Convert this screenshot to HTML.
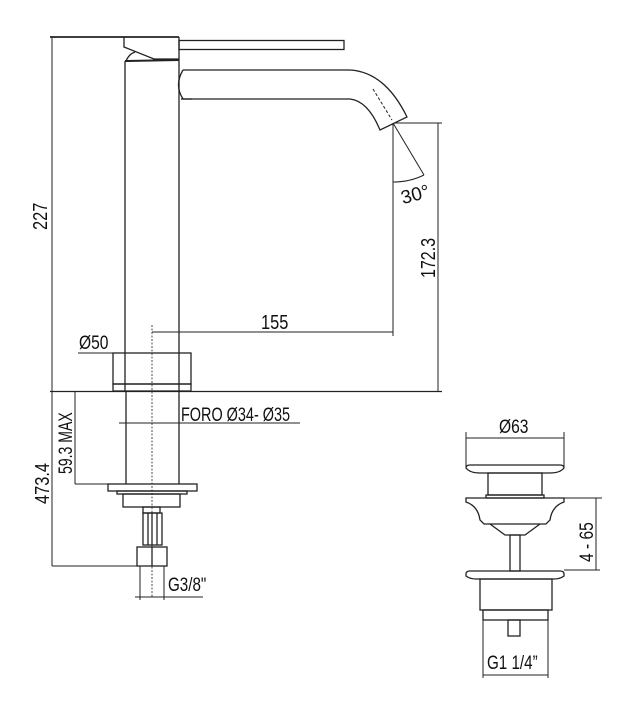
<!DOCTYPE html>
<html><head><style>body{margin:0;background:#fff}svg{display:block}</style></head>
<body>
<svg width="635" height="714" viewBox="0 0 635 714" xmlns="http://www.w3.org/2000/svg" font-family="Liberation Sans, sans-serif" fill="none" stroke="#222" stroke-width="1.3">
<line x1="50" y1="37" x2="179" y2="37" stroke-width="1.8"/>
<polyline points="124,37 124,47 154,59 179,59"/>
<line x1="179" y1="37" x2="179" y2="391"/>
<line x1="125" y1="61" x2="179" y2="60" stroke-width="2"/>
<path d="M126,61 Q129,54 135,52"/>
<rect x="179" y="40.5" width="165" height="9"/>
<line x1="125" y1="61" x2="125" y2="391"/>
<path d="M183,70 L350,70 Q385,72 407,117 L380,130 Q368,101 350,99 L183,99 Q174,85 183,70"/>
<path d="M181,99 L192,99"/>
<line x1="373" y1="89" x2="392" y2="120" stroke-dasharray="3,2" stroke-width="1"/>
<line x1="393" y1="123" x2="424" y2="175" stroke-width="1"/>
<line x1="393" y1="123" x2="393" y2="336" stroke-width="1"/>
<path d="M393,182 Q410,182 424,175" stroke-width="1"/>
<text x="400" y="202" font-size="19" fill="#111" stroke="none" transform="rotate(-15 410 192)">30°</text>
<line x1="395" y1="123" x2="442" y2="123" stroke-width="1"/>
<line x1="438" y1="123" x2="438" y2="391" stroke-width="1"/>
<text x="0" y="0" font-size="20" fill="#111" stroke="none" transform="translate(435 278) rotate(-90) scale(0.8 1)">172.3</text>
<line x1="152" y1="332" x2="393" y2="332" stroke-width="1"/>
<text x="261" y="329" font-size="20" fill="#111" stroke="none" transform="translate(261 0) scale(0.82 1) translate(-261 0)">155</text>
<line x1="152" y1="325" x2="152" y2="598" stroke-width="0.8" stroke-dasharray="2,1.5"/>
<line x1="78" y1="353" x2="191" y2="353" stroke-width="1"/>
<text x="79" y="349" font-size="19" fill="#111" stroke="none" transform="translate(79 0) scale(0.82 1) translate(-79 0)">Ø50</text>
<rect x="113" y="353" width="78" height="31"/>
<rect x="113" y="384" width="78" height="7"/>
<line x1="52" y1="37" x2="52" y2="566" stroke-width="1"/>
<text x="0" y="0" font-size="20" fill="#111" stroke="none" transform="translate(47 230) rotate(-90) scale(0.82 1)">227</text>
<line x1="50" y1="391.5" x2="442" y2="391.5" stroke-width="1.3"/>
<line x1="126" y1="392" x2="126" y2="484"/>
<line x1="179" y1="392" x2="179" y2="484"/>
<line x1="119" y1="423" x2="300" y2="423" stroke-width="1"/>
<text x="181" y="421" font-size="19" fill="#111" stroke="none" transform="translate(181 0) scale(0.76 1) translate(-181 0)">FORO Ø34- Ø35</text>
<line x1="75" y1="392" x2="75" y2="484" stroke-width="1"/>
<line x1="75" y1="484" x2="110" y2="484" stroke-width="1"/>
<text x="0" y="0" font-size="19" fill="#111" stroke="none" transform="translate(72 474) rotate(-90) scale(0.74 1)">59.3 MAX</text>
<text x="0" y="0" font-size="20" fill="#111" stroke="none" transform="translate(49 504) rotate(-90) scale(0.82 1)">473.4</text>
<line x1="52" y1="566" x2="137" y2="566" stroke-width="1"/>
<rect x="108" y="484" width="89" height="7"/>
<rect x="117" y="491" width="70" height="3"/>
<rect x="123" y="494" width="57" height="13"/>
<rect x="143" y="507" width="17" height="6"/>
<rect x="143" y="513" width="19" height="32"/>
<line x1="148" y1="513" x2="148" y2="545"/><line x1="152" y1="513" x2="152" y2="545"/><line x1="157" y1="513" x2="157" y2="545"/>
<rect x="137" y="547" width="30" height="19"/>
<line x1="152" y1="547" x2="152" y2="566"/>
<line x1="140" y1="566" x2="140" y2="600" stroke-width="1"/>
<line x1="164" y1="566" x2="164" y2="600" stroke-width="1"/>
<line x1="135" y1="597" x2="203" y2="597" stroke-width="1"/>
<text x="168" y="591" font-size="19" fill="#111" stroke="none" transform="translate(168 0) scale(0.8 1) translate(-168 0)">G3/8"</text>
<line x1="466" y1="438" x2="564" y2="438" stroke-width="1"/>
<text x="499" y="433" font-size="19" fill="#111" stroke="none" transform="translate(499 0) scale(0.82 1) translate(-499 0)">Ø63</text>
<line x1="466" y1="432" x2="466" y2="468" stroke-width="1"/>
<line x1="564" y1="432" x2="564" y2="468" stroke-width="1"/>
<path d="M466,468 Q466,465 470,465 L560,465 Q564,465 564,468 Q560,473 550,473 L480,473 Q470,473 466,468 Z"/>
<rect x="488" y="473" width="54" height="22"/>
<rect x="486" y="495" width="58" height="3"/>
<path d="M466,498 L564,498 L564,502 Q552,506 550,520 L546,524 L484,524 L480,520 Q478,506 466,502 Z"/>
<path d="M490,524 L505,535 L525,535 L540,524"/>
<rect x="510" y="535" width="10" height="36"/>
<line x1="544" y1="498" x2="602" y2="498" stroke-width="1"/>
<line x1="596" y1="498" x2="596" y2="570" stroke-width="1"/>
<line x1="564" y1="570" x2="600" y2="570" stroke-width="1"/>
<text x="0" y="0" font-size="19" fill="#111" stroke="none" transform="translate(593 562) rotate(-90) scale(0.82 1)">4 - 65</text>
<path d="M466,574 Q466,571 470,571 L560,571 Q564,571 564,574 L564,576 Q560,579 554,579 L476,579 Q470,579 466,576 Z"/>
<rect x="480" y="579" width="72" height="31"/>
<rect x="483" y="610" width="65" height="10"/>
<rect x="508" y="620" width="12" height="16"/>
<line x1="483" y1="620" x2="483" y2="678" stroke-width="1"/>
<line x1="548" y1="620" x2="548" y2="678" stroke-width="1"/>
<line x1="483" y1="675" x2="548" y2="675" stroke-width="1"/>
<text x="487" y="669" font-size="19" fill="#111" stroke="none" transform="translate(487 0) scale(0.8 1) translate(-487 0)">G1 1/4”</text>
</svg>
</body></html>
